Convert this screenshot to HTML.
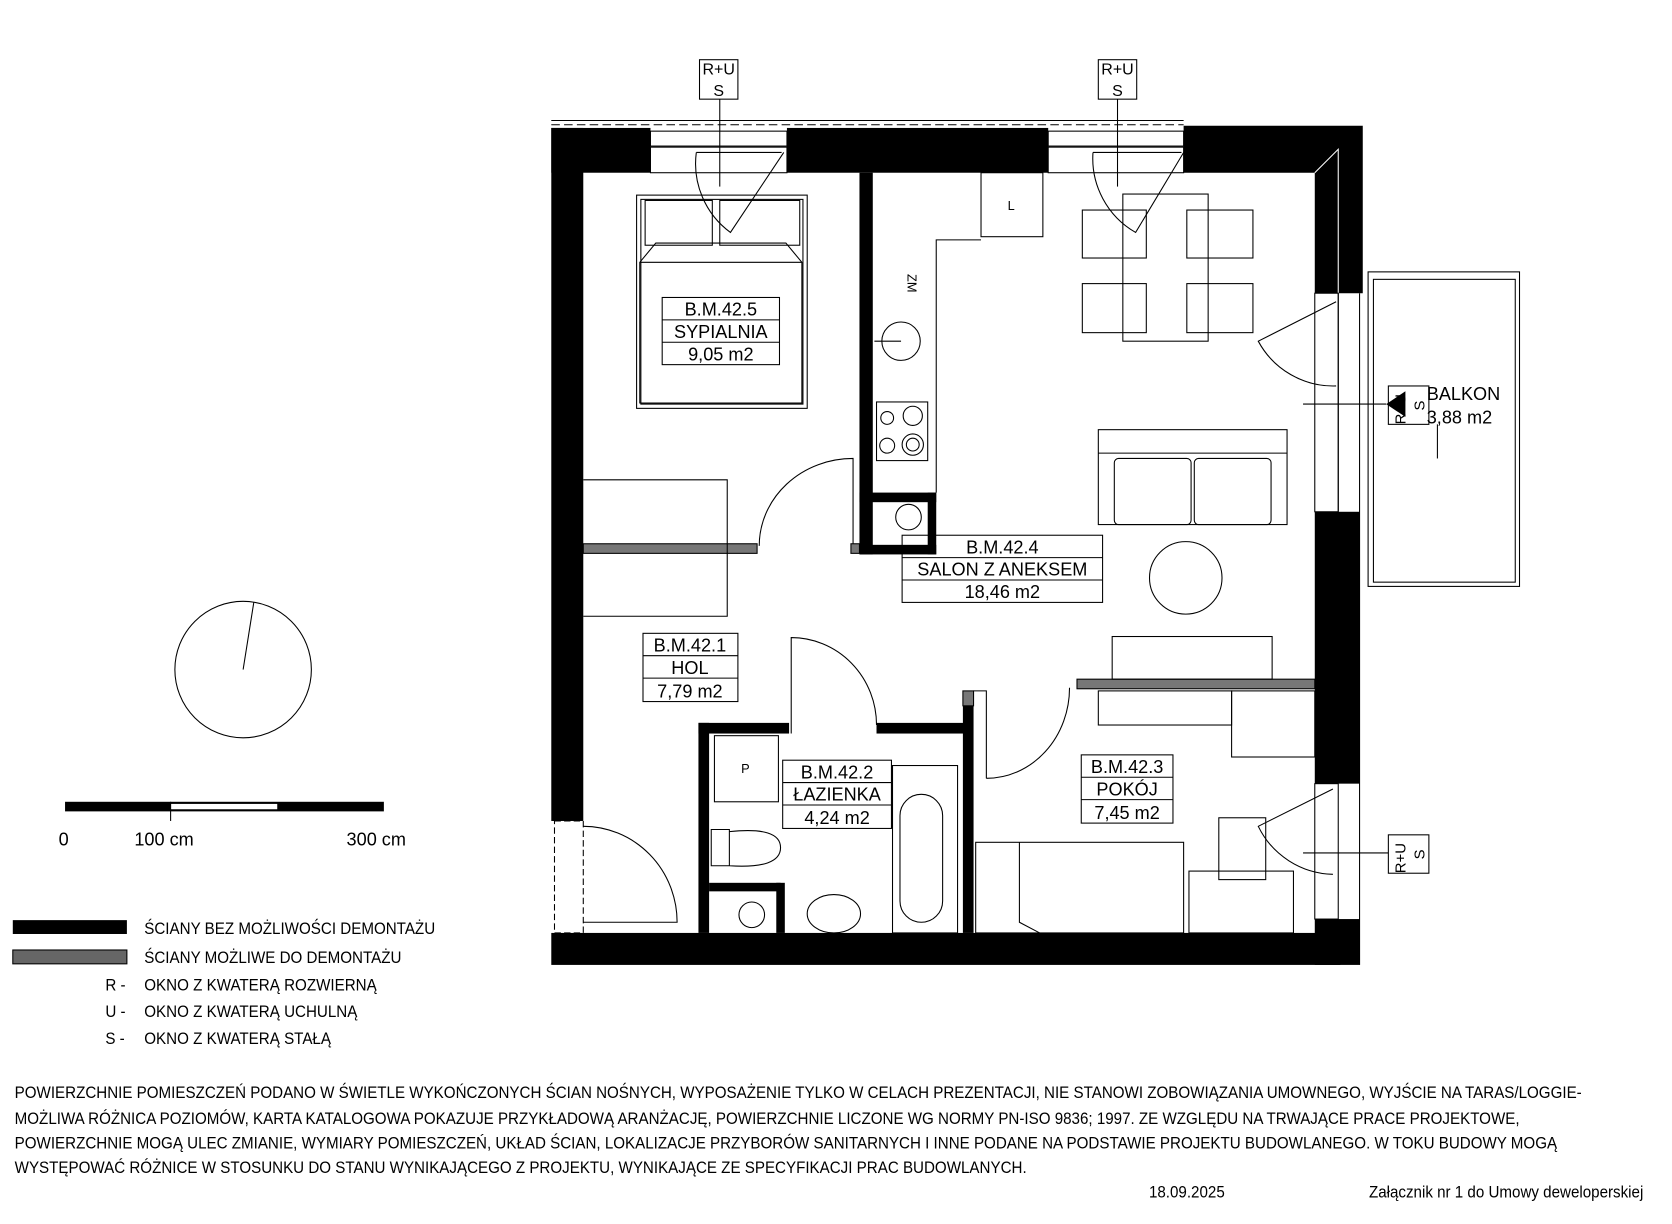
<!DOCTYPE html>
<html><head><meta charset="utf-8"><style>
html,body{margin:0;padding:0;background:#fff;}
svg{display:block;}
text{font-family:"Liberation Sans",sans-serif;fill:#000;}
</style></head><body>
<svg width="1672" height="1224" viewBox="0 0 1568 1148" preserveAspectRatio="none" xmlns="http://www.w3.org/2000/svg">
<rect width="1568" height="1148" fill="#fff"/>
<g stroke="#000" stroke-width="1" fill="none">
<line x1="517" y1="113" x2="1110" y2="113"/>
<line x1="517" y1="117" x2="1110" y2="117" stroke-dasharray="8,4"/>
</g>
<g fill="#000">
<rect x="517" y="120" width="93" height="42"/>
<rect x="738" y="120" width="245" height="42"/>
<polygon points="1110,118 1278,118 1278,275 1233,275 1233,162 1110,162"/>
<rect x="1233" y="480" width="42" height="255"/>
<rect x="1233" y="862" width="42" height="43"/>
<rect x="517" y="120" width="30" height="650"/>
<rect x="517" y="875" width="740" height="30"/>
<rect x="806" y="162" width="12" height="358"/>
<rect x="806" y="462" width="72" height="9"/>
<rect x="870" y="462" width="8" height="58"/>
<rect x="806" y="511" width="72" height="9"/>
<rect x="655" y="678" width="10" height="197"/>
<rect x="655" y="678" width="85" height="10"/>
<rect x="822" y="678" width="90" height="10"/>
<rect x="903" y="660" width="10" height="215"/>
<rect x="665" y="828" width="67" height="8"/>
<rect x="728" y="828" width="8" height="47"/>
</g>
<polyline points="1233,162 1255,140 1255,275" stroke="#fff" stroke-width="1" fill="none"/>
<g fill="#777" stroke="#000" stroke-width="1">
<rect x="547" y="510" width="163" height="9"/>
<rect x="798" y="510" width="8" height="9"/>
<rect x="1010" y="637" width="223" height="9"/>
<rect x="903" y="648" width="10" height="14"/>
</g>
<g stroke="#000" stroke-width="1" fill="none">
<rect x="610" y="123" width="128" height="14"/><rect x="610" y="138" width="128" height="24"/>
<rect x="983" y="123" width="127" height="14"/><rect x="983" y="138" width="127" height="24"/>
<line x1="653" y1="143" x2="733" y2="143"/><line x1="1025" y1="143" x2="1108" y2="143"/>
<path d="M653,143 A80,80 0 0 0 685,218 L735,143"/>
<path d="M1025,143 A80,80 0 0 0 1065,218 L1110,143"/>
<line x1="675" y1="93" x2="675" y2="175"/><line x1="1048" y1="93" x2="1048" y2="175"/>
<rect x="656" y="56" width="36" height="37"/><rect x="1030" y="56" width="36" height="37"/>
<rect x="1233" y="275" width="22" height="205"/><line x1="1255" y1="275" x2="1255" y2="480"/>
<line x1="1275" y1="275" x2="1275" y2="905"/>
<path d="M1253,283 L1180,320 A80,80 0 0 0 1253,362"/>
<line x1="1222" y1="379" x2="1300" y2="379"/>
<rect x="1233" y="735" width="22" height="127"/>
<path d="M1250,740 L1180,775 A80,80 0 0 0 1250,820"/>
<line x1="1222" y1="800" x2="1302" y2="800"/>
<rect x="1302" y="362" width="38" height="36"/><rect x="1302" y="783" width="38" height="36"/>
<rect x="1283" y="255" width="142" height="295"/><rect x="1288" y="262" width="133" height="284"/>
<line x1="1348" y1="398" x2="1348" y2="430"/>
<rect x="520" y="770" width="27" height="105" stroke-dasharray="6,3"/>
<path d="M547,775 A88,90 0 0 1 635,865 L547,865"/>
<path d="M712,512 A88,82 0 0 1 800,430 L800,510"/>
<path d="M742,688 L742,598 A80,82 0 0 1 822,680"/>
<path d="M925,730 A78,85 0 0 0 1003,645 M913,648 L925,648 L925,730"/>
<rect x="597" y="183" width="160" height="200"/><rect x="601" y="187" width="152" height="192"/>
<rect x="605" y="188" width="63" height="42"/><rect x="675" y="188" width="75" height="42"/>
<path d="M600,246 L615,228 L737,228 L752,246 L752,378 L600,378 Z M600,246 L752,246"/>
<polyline points="547,450 682,450 682,578 547,578"/>
<polyline points="818,162 818,520"/>
<polyline points="878,462 878,225 920,225"/>
<rect x="920" y="162" width="58" height="60"/>
<circle cx="845" cy="320" r="18"/><line x1="820" y1="320" x2="845" y2="320"/>
<rect x="822" y="377" width="48" height="55"/>
<circle cx="832" cy="392" r="6"/><circle cx="856" cy="390" r="9"/>
<circle cx="832" cy="418" r="7"/><circle cx="856" cy="417" r="10"/><circle cx="856" cy="417" r="6"/>
<circle cx="852" cy="485" r="12"/>
<rect x="1053" y="182" width="80" height="138"/>
<rect x="1015" y="197" width="60" height="45"/><rect x="1113" y="197" width="62" height="45"/>
<rect x="1015" y="266" width="60" height="46"/><rect x="1113" y="266" width="62" height="46"/>
<rect x="1030" y="403" width="177" height="89"/><line x1="1030" y1="425" x2="1207" y2="425"/>
<rect x="1045" y="430" width="72" height="62" rx="4"/><rect x="1120" y="430" width="72" height="62" rx="4"/>
<circle cx="1112" cy="542" r="34"/>
<rect x="1043" y="597" width="150" height="40"/>
<rect x="1030" y="648" width="125" height="32"/><rect x="1155" y="648" width="78" height="62"/>
<rect x="915" y="790" width="195" height="85"/><path d="M956,790 L956,865 L975,875"/>
<rect x="1143" y="767" width="44" height="58"/><rect x="1115" y="817" width="98" height="58"/>
<rect x="670" y="690" width="60" height="62"/>
<rect x="837" y="718" width="61" height="157"/><rect x="844" y="745" width="40" height="120" rx="20"/>
<path d="M684,778 L684,812 L667,812 L667,778 Z M684,780 Q732,775 732,795 Q732,815 684,812"/>
<ellipse cx="782" cy="857" rx="25" ry="18"/>
<circle cx="705" cy="858" r="12"/>
<rect x="621" y="279" width="110" height="63"/><line x1="621" y1="300" x2="731" y2="300"/><line x1="621" y1="321" x2="731" y2="321"/>
<rect x="846" y="502" width="188" height="63"/><line x1="846" y1="523" x2="1034" y2="523"/><line x1="846" y1="544" x2="1034" y2="544"/>
<rect x="603" y="594" width="89" height="64"/><line x1="603" y1="615" x2="692" y2="615"/><line x1="603" y1="636" x2="692" y2="636"/>
<rect x="734" y="713" width="102" height="64"/><line x1="734" y1="734" x2="836" y2="734"/><line x1="734" y1="755" x2="836" y2="755"/>
<rect x="1014" y="708" width="86" height="64"/><line x1="1014" y1="729" x2="1100" y2="729"/><line x1="1014" y1="750" x2="1100" y2="750"/>
<circle cx="228" cy="628" r="64"/><line x1="228" y1="628" x2="238" y2="565"/>
</g>
<polygon points="1300,379 1318,367 1318,391" fill="#000"/>
<rect x="61" y="752" width="299" height="9" fill="#000"/>
<rect x="160" y="754" width="100" height="5" fill="#fff"/>
<line x1="160" y1="752" x2="160" y2="770" stroke="#000"/>
<g font-size="17">
<text x="55" y="793">0</text><text x="126" y="793">100 cm</text><text x="325" y="793">300 cm</text>
</g>
<g font-size="17" text-anchor="middle">
<text x="676" y="296">B.M.42.5</text><text x="676" y="317">SYPIALNIA</text><text x="676" y="338">9,05 m2</text>
<text x="940" y="519">B.M.42.4</text><text x="940" y="540">SALON Z ANEKSEM</text><text x="940" y="561">18,46 m2</text>
<text x="647" y="611">B.M.42.1</text><text x="647" y="632">HOL</text><text x="647" y="654">7,79 m2</text>
<text x="785" y="730">B.M.42.2</text><text x="785" y="751">ŁAZIENKA</text><text x="785" y="773">4,24 m2</text>
<text x="1057" y="725">B.M.42.3</text><text x="1057" y="746">POKÓJ</text><text x="1057" y="768">7,45 m2</text>
<text x="674" y="70" font-size="15">R+U</text><text x="674" y="90" font-size="15">S</text>
<text x="1048" y="70" font-size="15">R+U</text><text x="1048" y="90" font-size="15">S</text>
</g>
<text x="1338" y="375" font-size="17">BALKON</text><text x="1338" y="397" font-size="17">3,88 m2</text>
<text x="0" y="0" font-size="14" transform="translate(1318,398) rotate(-90)">R+U</text>
<text x="0" y="0" font-size="14" transform="translate(1336,385) rotate(-90)">S</text>
<text x="0" y="0" font-size="14" transform="translate(1318,819) rotate(-90)">R+U</text>
<text x="0" y="0" font-size="14" transform="translate(1336,806) rotate(-90)">S</text>
<text x="0" y="0" font-size="12" transform="translate(851,257) rotate(90)">ZM</text>
<text x="945" y="197" font-size="12">L</text>
<text x="695" y="725" font-size="12">P</text>
<rect x="12" y="863" width="107" height="13" fill="#000"/>
<rect x="12" y="891" width="107" height="13" fill="#666" stroke="#000"/>
<g font-size="16" transform="scale(0.89,1)">
<text x="152" y="876">ŚCIANY BEZ MOŻLIWOŚCI DEMONTAŻU</text>
<text x="152" y="903">ŚCIANY MOŻLIWE DO DEMONTAŻU</text>
<text x="111" y="929">R -</text><text x="152" y="929">OKNO Z KWATERĄ ROZWIERNĄ</text>
<text x="111" y="954">U -</text><text x="152" y="954">OKNO Z KWATERĄ UCHULNĄ</text>
<text x="111" y="979">S -</text><text x="152" y="979">OKNO Z KWATERĄ STAŁĄ</text>
</g>
<g font-size="15.5" transform="scale(0.917,1)">
<text x="15" y="1030">POWIERZCHNIE POMIESZCZEŃ PODANO W ŚWIETLE WYKOŃCZONYCH ŚCIAN NOŚNYCH, WYPOSAŻENIE TYLKO W CELACH PREZENTACJI, NIE STANOWI ZOBOWIĄZANIA UMOWNEGO, WYJŚCIE NA TARAS/LOGGIE-</text>
<text x="15" y="1054">MOŻLIWA RÓŻNICA POZIOMÓW, KARTA KATALOGOWA POKAZUJE PRZYKŁADOWĄ ARANŻACJĘ, POWIERZCHNIE LICZONE WG NORMY PN-ISO 9836; 1997. ZE WZGLĘDU NA TRWAJĄCE PRACE PROJEKTOWE,</text>
<text x="15" y="1077">POWIERZCHNIE MOGĄ ULEC ZMIANIE, WYMIARY POMIESZCZEŃ, UKŁAD ŚCIAN, LOKALIZACJE PRZYBORÓW SANITARNYCH I INNE PODANE NA PODSTAWIE PROJEKTU BUDOWLANEGO. W TOKU BUDOWY MOGĄ</text>
<text x="15" y="1100">WYSTĘPOWAĆ RÓŻNICE W STOSUNKU DO STANU WYNIKAJĄCEGO Z PROJEKTU, WYNIKAJĄCE ZE SPECYFIKACJI PRAC BUDOWLANYCH.</text>
<text x="1175" y="1123">18.09.2025</text>
<text x="1400" y="1123">Załącznik nr 1 do Umowy deweloperskiej</text>
</g>
</svg>
</body></html>
